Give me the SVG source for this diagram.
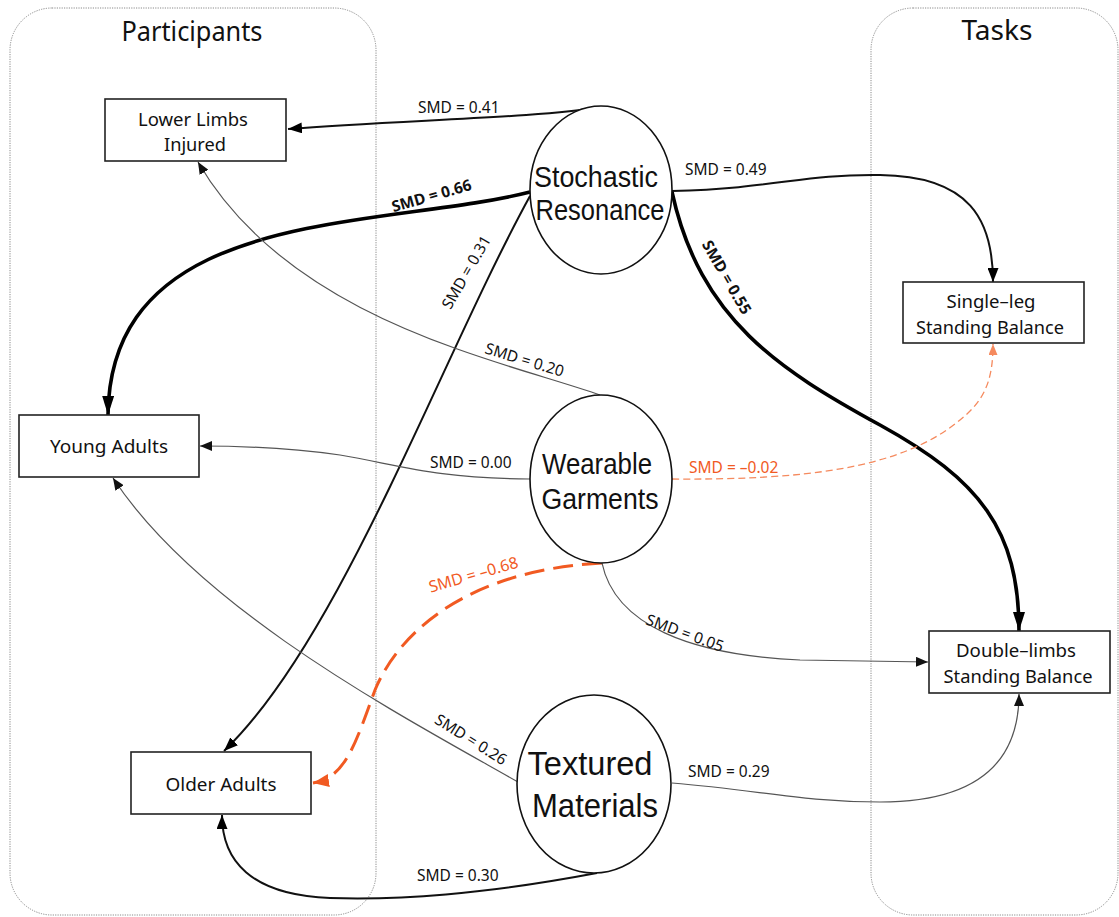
<svg xmlns="http://www.w3.org/2000/svg" width="1119" height="917" viewBox="0 0 1119 917">
<style>
text{font-family:"Noto Sans","Open Sans","DejaVu Sans",sans-serif;fill:#111}
.title{font-size:28px;text-anchor:middle}
.box{fill:#fff;stroke:#222;stroke-width:1.6}
.ell{fill:#fff;stroke:#111;stroke-width:1.6}
.bl{font-size:18px;text-anchor:middle}
.el{font-family:"Liberation Sans","Arial",sans-serif;font-size:29.5px;text-anchor:middle}
.el2{font-family:"Liberation Sans","Arial",sans-serif;font-size:33px;text-anchor:middle}
.lab{font-size:15.5px}
.labc{font-size:15.5px;text-anchor:middle}
.bold{font-weight:bold}
.or{fill:#f15a24}
.group{fill:none;stroke:#8a8a8a;stroke-width:1;stroke-dasharray:1.2 1.2}
.c{fill:none}
.k2{stroke:#111;stroke-width:2}
.k4{stroke:#000;stroke-width:3.6}
.g1{stroke:#555;stroke-width:1.2}
.o3{stroke:#f15a22;stroke-width:3;stroke-dasharray:20 9}
.o1{stroke:#f58a5e;stroke-width:1.3;stroke-dasharray:7 4}
</style>
<defs>
<marker id="aS" markerUnits="userSpaceOnUse" viewBox="0 0 12 10" markerWidth="12" markerHeight="10" refX="12" refY="5" orient="auto"><path d="M0,0 L12,5 L0,10 z" fill="#111"/></marker>
<marker id="aM" markerUnits="userSpaceOnUse" viewBox="0 0 14 11" markerWidth="14" markerHeight="11" refX="14" refY="5.5" orient="auto"><path d="M0,0 L14,5.5 L0,11 z" fill="#000"/></marker>
<marker id="aL" markerUnits="userSpaceOnUse" viewBox="0 0 19 12" markerWidth="19" markerHeight="12" refX="19" refY="6" orient="auto"><path d="M0,0 L19,6 L0,12 z" fill="#000"/></marker>
<marker id="aO" markerUnits="userSpaceOnUse" viewBox="0 0 16 13" markerWidth="16" markerHeight="13" refX="16" refY="6.5" orient="auto"><path d="M0,0 L16,6.5 L0,13 z" fill="#f15a22"/></marker>
<marker id="aOL" markerUnits="userSpaceOnUse" viewBox="0 0 11 9" markerWidth="11" markerHeight="9" refX="11" refY="4.5" orient="auto"><path d="M0,0 L11,4.5 L0,9 z" fill="#f58a5e"/></marker>
</defs>

<g id="participants-group">
<rect class="group" x="10" y="8" width="366" height="907" rx="42"/>
<text class="title" x="192" y="41" textLength="141" lengthAdjust="spacingAndGlyphs">Participants</text>
</g>
<g id="tasks-group">
<rect class="group" x="871" y="8" width="247" height="907" rx="42"/>
<text class="title" x="997" y="40" textLength="71" lengthAdjust="spacingAndGlyphs">Tasks</text>
</g>

<g id="connectors">
<path class="c k2" d="M600,107 C 540,118 400,120 288,129" marker-end="url(#aM)"/>
<path class="c k4" d="M530,192 C 380,230 110,205 108,415" marker-end="url(#aL)"/>
<path class="c k2" d="M530,196 C 440,360 340,640 224,751" marker-end="url(#aM)"/>
<path class="c k2" d="M672,191 C 780,188 800,174 880,175 C 970,176 993,220 993,282" marker-end="url(#aM)"/>
<path class="c k4" d="M672,192 C 700,320 780,370 880,425 C 980,480 1019,530 1019,631" marker-end="url(#aL)"/>
<path class="c g1" d="M600,395 C 500,360 290,320 198,162" marker-end="url(#aS)"/>
<path class="c g1" d="M530,479 C 430,478 400,465 340,455 C 290,448 250,446 200,446" marker-end="url(#aS)"/>
<path class="c o1" d="M672,479 C 800,480 900,470 960,420 C 985,400 993,380 993,344" marker-end="url(#aOL)"/>
<path class="c o3" d="M602,563 C 470,570 400,630 375,690 C 355,745 345,778 313,783" marker-end="url(#aO)"/>
<path class="c g1" d="M602,563 C 615,625 690,655 800,660 L 928,662" marker-end="url(#aS)"/>
<path class="c g1" d="M518,782 C 400,715 200,610 113,478" marker-end="url(#aS)"/>
<path class="c g1" d="M672,783 C 760,790 800,802 880,802 C 980,802 1019,760 1019,694" marker-end="url(#aS)"/>
<path class="c k2" d="M597,873 C 480,895 400,900 330,898 C 250,895 222,860 222,815" marker-end="url(#aM)"/>

<text class="lab" x="418" y="113">SMD = 0.41</text>
<text class="labc bold" x="433" y="201" transform="rotate(-16 433 201)">SMD = 0.66</text>
<text class="labc" x="471" y="275" transform="rotate(-60 471 275)">SMD = 0.31</text>
<text class="labc" x="523" y="365" transform="rotate(17 523 365)">SMD = 0.20</text>
<text class="lab" x="685" y="175">SMD = 0.49</text>
<text class="labc bold" x="722" y="280" transform="rotate(60 722 280)">SMD = 0.55</text>
<text class="lab" x="430" y="468">SMD = 0.00</text>
<text class="lab or" x="689" y="473">SMD = –0.02</text>
<text class="labc or" x="475" y="580" transform="rotate(-16 475 580)" style="font-size:16px">SMD = –0.68</text>
<text class="labc" x="683" y="638" transform="rotate(20 683 638)">SMD = 0.05</text>
<text class="labc" x="468" y="744" transform="rotate(32 468 744)">SMD = 0.26</text>
<text class="lab" x="688" y="777">SMD = 0.29</text>
<text class="lab" x="417" y="881">SMD = 0.30</text>
</g>

<g id="lower-limbs-injured">
<rect class="box" x="105" y="99" width="181" height="62"/>
<text class="bl" x="193" y="126" textLength="110" lengthAdjust="spacingAndGlyphs">Lower Limbs</text>
<text class="bl" x="195" y="151" textLength="62" lengthAdjust="spacingAndGlyphs">Injured</text>
</g>
<g id="young-adults">
<rect class="box" x="19" y="415" width="180" height="62"/>
<text class="bl" x="109" y="453" textLength="118" lengthAdjust="spacingAndGlyphs">Young Adults</text>
</g>
<g id="older-adults">
<rect class="box" x="131" y="752" width="180" height="62"/>
<text class="bl" x="221" y="791" textLength="111" lengthAdjust="spacingAndGlyphs">Older Adults</text>
</g>
<g id="single-leg">
<rect class="box" x="903" y="282" width="181" height="61"/>
<text class="bl" x="991" y="308" textLength="89" lengthAdjust="spacingAndGlyphs">Single–leg</text>
<text class="bl" x="990" y="334" textLength="148" lengthAdjust="spacingAndGlyphs">Standing Balance</text>
</g>
<g id="double-limbs">
<rect class="box" x="929" y="631" width="181" height="62"/>
<text class="bl" x="1016" y="657" textLength="120" lengthAdjust="spacingAndGlyphs">Double–limbs</text>
<text class="bl" x="1018" y="683" textLength="149" lengthAdjust="spacingAndGlyphs">Standing Balance</text>
</g>
<g id="stochastic-resonance">
<ellipse class="ell" cx="601" cy="190" rx="71" ry="84"/>
<text class="el" x="596" y="187" textLength="124" lengthAdjust="spacingAndGlyphs">Stochastic</text>
<text class="el" x="600" y="220" textLength="129" lengthAdjust="spacingAndGlyphs">Resonance</text>
</g>
<g id="wearable-garments">
<ellipse class="ell" cx="601" cy="479" rx="71" ry="84"/>
<text class="el" x="597" y="474" textLength="110" lengthAdjust="spacingAndGlyphs">Wearable</text>
<text class="el" x="600" y="509" textLength="117" lengthAdjust="spacingAndGlyphs">Garments</text>
</g>
<g id="textured-materials">
<ellipse class="ell" cx="594" cy="784" rx="77" ry="89"/>
<text class="el2" x="590" y="775" textLength="125" lengthAdjust="spacingAndGlyphs">Textured</text>
<text class="el2" x="595" y="817" textLength="126" lengthAdjust="spacingAndGlyphs">Materials</text>
</g>
</svg>
